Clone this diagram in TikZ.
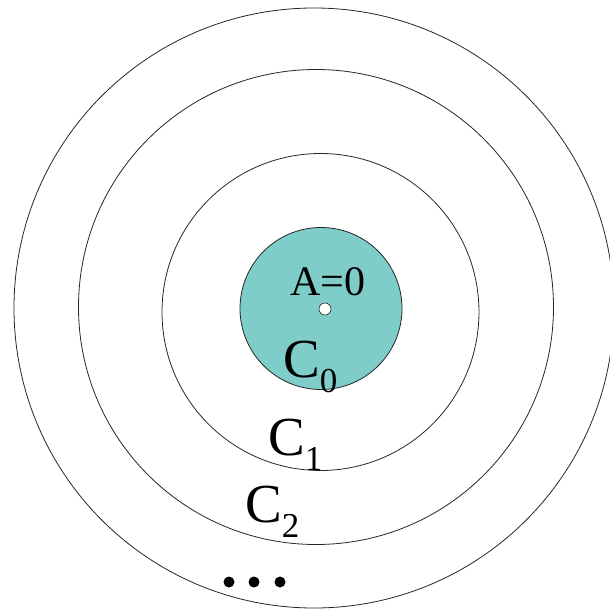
\documentclass[tikz,border=0pt]{standalone}
\usepackage{fontspec}
\setmainfont{Liberation Serif}
\definecolor{teal0}{RGB}{126,205,200}
\tikzset{
  ring/.style={circle, draw=black!85, line width=0.8pt, inner sep=0pt},
  lab/.style={anchor=base west, inner sep=0pt, font=\fontsize{55}{55}\selectfont},
  dotb/.style={circle, fill=black, inner sep=0pt, minimum size=11pt},
}
\newcommand{\subsc}[1]{\raisebox{-15pt}{\fontsize{35}{35}\selectfont #1}}
\begin{document}
\begin{tikzpicture}[x=1pt,y=-1pt]
\useasboundingbox (0,0) rectangle (610,614);
\clip (0,0) rectangle (610,614);
\node[ring, minimum size=600pt] (r3) at (314,308) {};
\node[ring, minimum size=475pt] (r2) at (316,307) {};
\node[ring, minimum size=317pt] (r1) at (320.5,312) {};
\node[ring, fill=teal0, minimum size=162pt] (r0) at (321,308.5) {};
\node[circle, draw=black!85, fill=white, line width=0.6pt, inner sep=0pt, minimum size=12pt] (ctr) at (325,309) {};
\node[anchor=base west, inner sep=0pt, font=\fontsize{42}{42}\selectfont] (a) at (290,295) {A=0};
\node[lab] (c0) at (283,377) {C\subsc{0}};
\node[lab] (c1) at (268,455) {C\subsc{1}};
\node[lab] (c2) at (245,522) {C\subsc{2}};
\node[dotb] (d1) at (229,582) {};
\node[dotb] (d2) at (254,582) {};
\node[dotb] (d3) at (280,582) {};
\end{tikzpicture}
\end{document}
